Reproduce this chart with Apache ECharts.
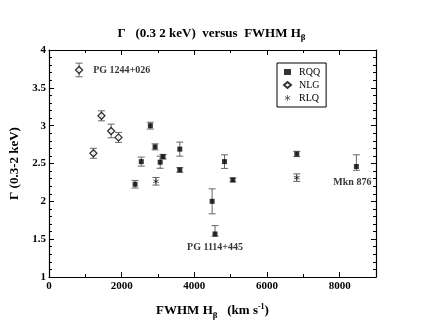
<!DOCTYPE html>
<html>
<head>
<meta charset="utf-8">
<script src="https://cdn.jsdelivr.net/npm/echarts@6/dist/echarts.min.js"></script>
<style>
  html, body { margin: 0; padding: 0; background: #fff; }
  #chart { width: 423px; height: 327px; }
</style>
</head>
<body>
<div id="chart"></div>
<script>
// RQQ: FWHM Hb, Gamma, lower err, upper err
var rqqX  = [2370, 2540, 2790, 2920, 3060, 3140, 3600, 3600, 4490, 4570, 4830, 5060, 6820, 8460];
var rqqY  = [2.226, 2.525, 3.0, 2.72, 2.517, 2.59, 2.69, 2.415, 2.0, 1.569, 2.525, 2.283, 2.626, 2.46];
var rqqLo = [0.05, 0.06, 0.045, 0.04, 0.08, 0.03, 0.093, 0.03, 0.165, 0.03, 0.09, 0.025, 0.035, 0.05];
var rqqHi = [0.05, 0.06, 0.045, 0.04, 0.08, 0.03, 0.093, 0.03, 0.165, 0.11, 0.09, 0.025, 0.035, 0.155];

// NLG
var nlgX  = [828, 1222, 1443, 1710, 1913];
var nlgY  = [3.736, 2.635, 3.13, 2.93, 2.845];
var nlgLo = [0.09, 0.066, 0.066, 0.09, 0.066];
var nlgHi = [0.09, 0.066, 0.066, 0.09, 0.066];

// RLQ
var rlqX  = [2943, 6820];
var rlqY  = [2.265, 2.313];
var rlqLo = [0.05, 0.05];
var rlqHi = [0.05, 0.05];

// object names written next to some points
var rqqNames = { 9: 'PG 1114+445', 13: 'Mkn 876' };
var nlgNames = { 0: 'PG 1244+026' };

var xTicks = { min: 0, max: 9000, interval: 2000 };
var yTicks = { min: 1, max: 4, interval: 0.5 };

var serif = 'Liberation Serif';
var chart = echarts.init(document.getElementById('chart'));

function points(xs, ys, names, labelCfg) {
  return xs.map(function (x, i) {
    var d = { value: [x, ys[i]] };
    if (names && names[i]) {
      d.label = Object.assign({ show: true, formatter: names[i] }, labelCfg[i]);
    }
    return d;
  });
}

function errData(xs, ys, lo, hi) {
  return xs.map(function (x, i) { return [x, ys[i] - lo[i], ys[i] + hi[i]]; });
}

// vertical error bar with caps
function renderErr(params, api) {
  var top = api.coord([api.value(0), api.value(2)]);
  var bot = api.coord([api.value(0), api.value(1)]);
  var w = 3.5;
  var st = { stroke: '#666', lineWidth: 1 };
  return {
    type: 'group',
    children: [
      { type: 'line', shape: { x1: top[0], y1: top[1], x2: bot[0], y2: bot[1] }, style: st },
      { type: 'line', shape: { x1: top[0] - w, y1: top[1], x2: top[0] + w, y2: top[1] }, style: st },
      { type: 'line', shape: { x1: bot[0] - w, y1: bot[1], x2: bot[0] + w, y2: bot[1] }, style: st }
    ]
  };
}

var labelFont = { fontFamily: serif, fontWeight: 'bold', fontSize: 10, color: '#000' };
var starPath = 'path://M4.5,0 L5.5,0 L5.5,3.6 L8.6,1.8 L9.1,2.7 L6,4.5 L9.1,6.3 L8.6,7.2 L5.5,5.4 L5.5,9 L4.5,9 L4.5,5.4 L1.4,7.2 L0.9,6.3 L4,4.5 L0.9,2.7 L1.4,1.8 L4.5,3.6 Z';

function axisCommon(extra) {
  return Object.assign({
    axisLine: { show: true, onZero: false, lineStyle: { color: '#000', width: 1.2 } },
    axisTick: { show: true, inside: true, length: 5, lineStyle: { color: '#000' } },
    minorTick: { show: true, length: 3, lineStyle: { color: '#000' } },
    splitLine: { show: false },
    axisLabel: { fontFamily: serif, fontWeight: 'bold', fontSize: 11, color: '#000' }
  }, extra);
}

chart.setOption({
  animation: false,
  backgroundColor: '#fff',
  title: {
    text: '{a|Γ   (0.3 2 keV)  versus  FWHM H}{s|β}',
    left: 'center',
    top: 20,
    textStyle: {
      rich: {
        a: { fontFamily: serif, fontWeight: 'bold', fontSize: 13, color: '#000' },
        s: { fontFamily: serif, fontWeight: 'bold', fontSize: 9, color: '#000', verticalAlign: 'bottom', padding: [8, 0, 0, 0] }
      }
    }
  },
  legend: {
    data: [
      { name: 'RQQ', icon: 'rect' },
      { name: 'NLG', icon: 'diamond' },
      { name: 'RLQ', icon: starPath }
    ],
    orient: 'vertical',
    left: 277,
    top: 63,
    padding: [4, 6, 4, 6],
    itemGap: 3,
    itemWidth: 7,
    itemHeight: 6,
    borderColor: '#000',
    borderWidth: 1,
    textStyle: { fontFamily: serif, fontSize: 10, color: '#000', padding: [0, 0, 0, 3] }
  },
  grid: { left: 49, right: 47, top: 50, bottom: 50 },
  xAxis: [
    axisCommon({
      type: 'value', min: xTicks.min, max: xTicks.max, interval: xTicks.interval,
      minorTick: { show: true, splitNumber: 2, length: 3, lineStyle: { color: '#000' } },
      axisLabel: {
        fontFamily: serif, fontWeight: 'bold', fontSize: 11, color: '#000', margin: 4,
        showMaxLabel: false,
        formatter: function (v) { return String(v); }
      },
      name: '{a|FWHM H}{s|β}{a|   (km s}{p|-1}{a|)}',
      nameLocation: 'middle',
      nameGap: 24,
      nameTextStyle: {
        rich: {
          a: { fontFamily: serif, fontWeight: 'bold', fontSize: 13, color: '#000' },
          s: { fontFamily: serif, fontWeight: 'bold', fontSize: 9, color: '#000', padding: [10, 0, 0, 0] },
          p: { fontFamily: serif, fontWeight: 'bold', fontSize: 8, color: '#000', padding: [0, 0, 8, 0] }
        }
      }
    }),
    axisCommon({
      type: 'value', position: 'top', min: xTicks.min, max: xTicks.max, interval: xTicks.interval,
      minorTick: { show: true, splitNumber: 2, length: 3, lineStyle: { color: '#000' } },
      axisLabel: { show: false }
    })
  ],
  yAxis: [
    axisCommon({
      type: 'value', min: yTicks.min, max: yTicks.max, interval: yTicks.interval,
      minorTick: { show: true, splitNumber: 5, length: 3, lineStyle: { color: '#000' } },
      axisLabel: { fontFamily: serif, fontWeight: 'bold', fontSize: 11, color: '#000', margin: 3 },
      name: 'Γ (0.3-2 keV)',
      nameLocation: 'middle',
      nameGap: 26,
      nameTextStyle: { fontFamily: serif, fontWeight: 'bold', fontSize: 13, color: '#000' }
    }),
    axisCommon({
      type: 'value', position: 'right', min: yTicks.min, max: yTicks.max, interval: yTicks.interval,
      minorTick: { show: true, splitNumber: 5, length: 3, lineStyle: { color: '#000' } },
      axisLabel: { show: false }
    })
  ],
  series: [
    { type: 'custom', renderItem: renderErr, data: errData(rqqX, rqqY, rqqLo, rqqHi), z: 1, silent: true },
    { type: 'custom', renderItem: renderErr, data: errData(nlgX, nlgY, nlgLo, nlgHi), z: 1, silent: true },
    { type: 'custom', renderItem: renderErr, data: errData(rlqX, rlqY, rlqLo, rlqHi), z: 1, silent: true },
    {
      name: 'RQQ', type: 'scatter', symbol: 'rect', symbolSize: 5, z: 3,
      itemStyle: { color: '#000' },
      data: points(rqqX, rqqY, rqqNames, {
        9: Object.assign({ position: 'bottom', distance: 6 }, labelFont),
        13: Object.assign({ position: 'bottom', distance: 8, offset: [-4, 0] }, labelFont)
      })
    },
    {
      name: 'NLG', type: 'scatter', symbol: 'diamond', symbolSize: 7, z: 3,
      itemStyle: { color: '#fff', borderColor: '#000', borderWidth: 1.3 },
      data: points(nlgX, nlgY, nlgNames, {
        0: Object.assign({ position: 'right', distance: 10 }, labelFont)
      })
    },
    {
      name: 'RLQ', type: 'scatter', symbol: starPath, symbolSize: 6, z: 3,
      itemStyle: { color: '#000' },
      data: points(rlqX, rlqY)
    }
  ]
});
</script>
</body>
</html>
